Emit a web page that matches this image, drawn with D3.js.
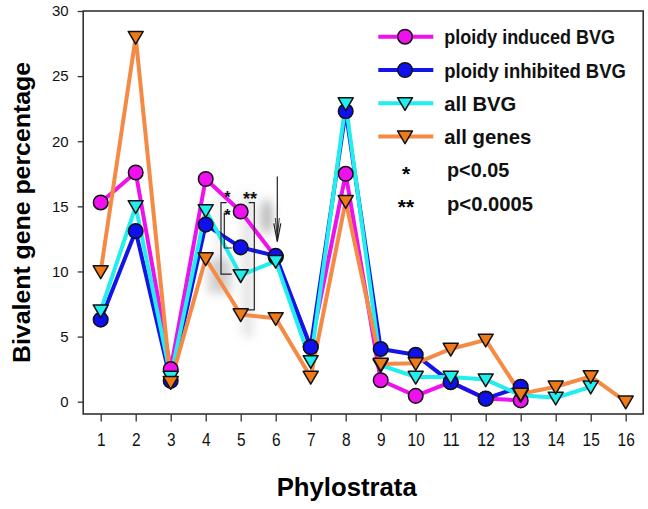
<!DOCTYPE html>
<html><head><meta charset="utf-8">
<script src="https://cdn.jsdelivr.net/npm/d3@7"></script>
<style>body{margin:0;background:#fff}svg{display:block;font-family:"Liberation Sans",Arial,sans-serif}</style>
</head><body><svg id="c" width="648" height="509"></svg>
<script>
const phylostrata = [1,2,3,4,5,6,7,8,9,10,11,12,13,14,15,16];
const inducedBVG   = [15.3,17.6,2.5,17.1,14.6,11.1,4.2,17.5,1.65,0.45,1.5,0.25,0.1];
const inhibitedBVG = [6.3,13.1,1.6,13.6,11.85,11.2,4.2,22.3,4.05,3.6,1.5,0.23,1.15];
const allBVG       = [7.0,15.0,1.9,14.7,9.7,10.8,3.1,22.9,2.8,1.9,1.9,1.7,0.5,0.3,1.15];
const allGenes     = [10.0,28.0,1.5,11.0,6.7,6.4,1.9,15.4,2.9,2.95,4.05,4.75,0.6,1.15,1.95,0.0];
const yTicks = [0,5,10,15,20,25,30];
const seriesNames = ["ploidy induced BVG","ploidy inhibited BVG","all BVG","all genes"];
const sigLabels = [["*","p<0.05"],["**","p<0.0005"]];

const svg = d3.select("#c");
const x = d3.scaleLinear().domain([0.5,16.5]).range([83.2,643.2]);
const y = d3.scaleLinear().domain([0,30]).range([401.7,11]);
const yBottom = 414;

// fit a text to a target width by horizontal scaling
function fitText(sel, tx, ty, w){
  const n = sel.node().getComputedTextLength();
  sel.attr("x",0).attr("y",0).attr("transform",`translate(${tx},${ty}) scale(${w/n},1)`);
}

// soft gray shadows
const defs = svg.append("defs");
const f = defs.append("filter").attr("id","blur").attr("x","-50%").attr("y","-50%").attr("width","200%").attr("height","200%");
f.append("feGaussianBlur").attr("stdDeviation",5);
const sh = svg.append("g").attr("filter","url(#blur)").attr("fill","#888");
sh.append("ellipse").attr("cx",x(6)-9).attr("cy",y(14.2)).attr("rx",6).attr("ry",18).attr("opacity",0.6);
sh.append("rect").attr("x",x(5)+2).attr("y",y(16)).attr("width",10).attr("height",y(5)-y(16)).attr("opacity",0.25);
sh.append("rect").attr("x",x(4)+2).attr("y",y(11)).attr("width",24).attr("height",y(8.3)-y(11)).attr("opacity",0.35);
sh.append("rect").attr("x",x(5)-24).attr("y",y(16)).attr("width",6).attr("height",y(9)-y(16)).attr("opacity",0.2);

// frame
svg.append("rect").attr("x",x(0.5)).attr("y",y(30)).attr("width",x(16.5)-x(0.5)).attr("height",yBottom-y(30))
  .attr("fill","none").attr("stroke","#333").attr("stroke-width",1.6);

// y axis
const yAxis = svg.append("g").attr("transform",`translate(${x(0.5)},0)`)
  .call(d3.axisLeft(y).tickValues(yTicks).tickSize(5.5).tickPadding(9));
yAxis.select(".domain").remove();
yAxis.selectAll("line").attr("stroke","#333").attr("stroke-width",1.3);
yAxis.selectAll("text").attr("font-size",15).attr("fill","#111").attr("font-family","Liberation Sans, Arial");

const xAxis = svg.append("g").attr("transform",`translate(0,${yBottom})`)
  .call(d3.axisBottom(x).tickValues(phylostrata).tickSize(7.5).tickPadding(12).tickFormat(d3.format("d")));
xAxis.select(".domain").remove();
xAxis.selectAll("line").attr("stroke","#333").attr("stroke-width",1.3);
xAxis.selectAll("text").attr("font-size",18).attr("fill","#111").attr("font-family","Liberation Sans, Arial")
  .attr("textLength",d=>String(d).length*8.6).attr("lengthAdjust","spacingAndGlyphs");

// axis titles
svg.append("text").attr("transform","translate(30,212.5) rotate(-90)").attr("text-anchor","middle")
  .attr("font-size",24).attr("font-weight","bold").attr("textLength",301).attr("lengthAdjust","spacingAndGlyphs")
  .text("Bivalent gene percentage");
svg.append("text").attr("x",346.7).attr("y",496).attr("text-anchor","middle")
  .attr("font-size",25.5).attr("font-weight","bold").attr("textLength",140).attr("lengthAdjust","spacingAndGlyphs").text("Phylostrata");

const series = [
  {name:seriesNames[0], data:inducedBVG, line:"#EE11EE", fill:"#EE11EE", shape:"circle", w:170.7},
  {name:seriesNames[1], data:inhibitedBVG, line:"#1414E6", fill:"#1010EE", shape:"circle", w:181.7},
  {name:seriesNames[2], data:allBVG, line:"#22EEEE", fill:"#22EEEE", shape:"tri", w:72},
  {name:seriesNames[3], data:allGenes, line:"#F58A45", fill:"#EE7A1A", shape:"tri", w:87}
];
const line = d3.line().x((d,i)=>x(phylostrata[i])).y(d=>y(d));
const triPath = (cx,cy,s=7.5) => `M${cx-s},${cy-s*0.75}L${cx+s},${cy-s*0.75}L${cx},${cy+s*0.95}Z`;

series.forEach(s=>{
  svg.append("path").attr("d",line(s.data)).attr("fill","none").attr("stroke",s.line)
    .attr("stroke-width",4).attr("stroke-linejoin","round");
});
function marker(g,s,cx,cy){
  if(s.shape==="circle") g.append("circle").attr("cx",cx).attr("cy",cy).attr("r",7.3)
     .attr("fill",s.fill).attr("stroke","#111").attr("stroke-width",1.5);
  else g.append("path").attr("d",triPath(cx,cy)).attr("fill",s.fill).attr("stroke","#111").attr("stroke-width",1.5).attr("stroke-linejoin","round");
}
series.forEach(s=>{
  const g = svg.append("g");
  s.data.forEach((d,i)=>marker(g,s,x(phylostrata[i]),y(d)));
});

// significance brackets and arrow
const ann = svg.append("g").attr("fill","none").attr("stroke","#222").attr("stroke-width",1.2);
const x5 = x(5);
ann.append("path").attr("d",`M${x5-14},${y(15.28)}H${x5-19.7}V${y(9.8)}H${x5-9}`);
ann.append("path").attr("d",`M${x5-10.7},${y(14.47)}H${x5-16.4}V${y(11.8)}H${x5-9}`);
ann.append("path").attr("d",`M${x5+8},${y(15.28)}H${x5+13.6}V${y(7.05)}H${x5+6}`);
const ax = x(6)+1.6;
ann.append("path").attr("d",`M${ax},${y(17.3)}V${y(12.3)}`);
ann.append("path").attr("d",`M${ax-3.5},${y(13.7)}L${ax},${y(12.3)}L${ax+3.5},${y(13.7)}`);
ann.append("path").attr("d",`M${ax-2},${y(14.1)}L${ax},${y(12.6)}L${ax+2},${y(14.1)}`).attr("stroke-width",0.9);
const st = svg.append("g").attr("font-weight","bold").attr("fill","#111");
st.append("text").attr("x",x5-13.4).attr("y",y(15.29)).attr("text-anchor","middle").attr("font-size",16).text("*");
st.append("text").attr("x",x5-13.4).attr("y",y(13.91)).attr("text-anchor","middle").attr("font-size",16).text("*");
st.append("text").attr("x",x5+9.3).attr("y",y(15.13)).attr("text-anchor","middle").attr("font-size",18).text("**");

// legend
const lg = svg.append("g");
series.forEach((s,i)=>{
  const ly = 36.7 + i*33.3;
  lg.append("line").attr("x1",378.3).attr("x2",433.3).attr("y1",ly).attr("y2",ly).attr("stroke",s.line).attr("stroke-width",4);
  marker(lg,s,405,ly);
  const t = lg.append("text").attr("font-size",21).attr("font-weight","bold").attr("fill","#111").text(s.name);
  fitText(t,444.3,ly+7.5,s.w);
});
const sigW = [62.3,86];
sigLabels.forEach((p,i)=>{
  const ly = 36.7 + (4+i)*33.3;
  lg.append("text").attr("x",406).attr("y",ly+11).attr("text-anchor","middle").attr("font-size",21).attr("font-weight","bold").text(p[0]);
  const t = lg.append("text").attr("font-size",21).attr("font-weight","bold").attr("fill","#111").text(p[1]);
  fitText(t,447,ly+7.5,sigW[i]);
});
</script></body></html>
